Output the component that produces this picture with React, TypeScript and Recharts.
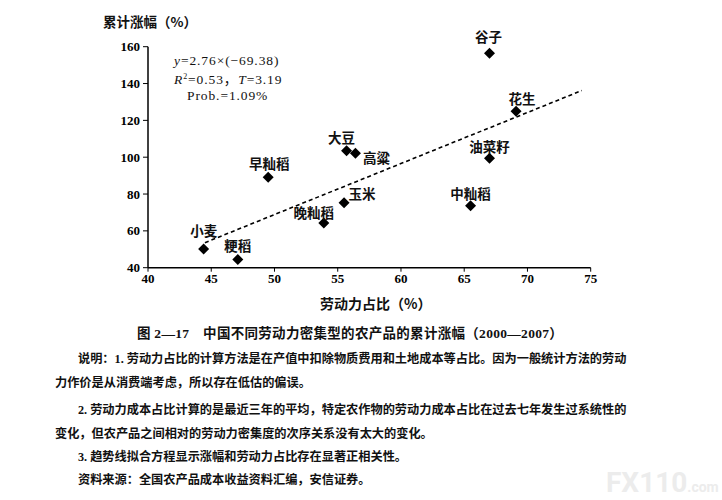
import { ReferenceLine, Scatter, ScatterChart, XAxis, YAxis } from "recharts";

// crops
const CROPS = ["谷子", "花生", "油菜籽", "中籼稻", "大豆", "高粱", "早籼稻", "玉米", "晚籼稻", "小麦", "粳稻"];
// labour share of output value (%)
const LABOUR_SHARE = [67.0, 69.1, 67.0, 65.5, 55.7, 56.4, 49.5, 55.5, 53.9, 44.4, 47.1];
// cumulative price rise 2000-2007 (%)
const CUM_RISE = [156.4, 124.9, 99.4, 73.7, 103.5, 102.1, 89.1, 75.3, 64.3, 50.2, 44.4];

const X_TICKS = [40, 45, 50, 55, 60, 65, 70, 75];
const Y_TICKS = [40, 60, 80, 100, 120, 140, 160];

// dashed trend line ends as drawn
const TREND_X = [44.5, 74.3];
const TREND_Y = [53.6, 136.2];

const NOTES = [
  "说明：1. 劳动力占比的计算方法是在产值中扣除物质费用和土地成本等占比。因为一般统计方法的劳动",
  "力作价是从消费端考虑，所以存在低估的偏误。",
  "2. 劳动力成本占比计算的是最近三年的平均，特定农作物的劳动力成本占比在过去七年发生过系统性的",
  "变化，但农产品之间相对的劳动力密集度的次序关系没有太大的变化。",
  "3. 趋势线拟合方程显示涨幅和劳动力占比存在显著正相关性。",
  "资料来源：全国农产品成本收益资料汇编，安信证券。",
];

// label placement relative to each marker (px), not data
const LABEL_OFFSET: Record<string, [number, number]> = {
  谷子: [-1, -17],
  花生: [6, -13],
  油菜籽: [0, -12],
  中籼稻: [0, -13],
  大豆: [-5, -14],
  高粱: [21, 4],
  早籼稻: [1, -14],
  玉米: [18, -10],
  晚籼稻: [-10, -11],
  小麦: [0, -19],
  粳稻: [0, -15],
};

const points = CROPS.map((name, i) => ({ name, x: LABOUR_SHARE[i], y: CUM_RISE[i] }));

const FONT = "'Liberation Serif', 'Noto Sans CJK SC', serif";
const CJK = "'Noto Sans CJK SC', sans-serif";

function Diamond(props: any) {
  const { cx, cy, payload } = props;
  const r = 5.5;
  const [dx, dy] = LABEL_OFFSET[payload.name] ?? [0, -14];
  return (
    <g>
      <path
        d={`M${cx},${cy - r}L${cx + r},${cy}L${cx},${cy + r}L${cx - r},${cy}Z`}
        fill="#000"
      />
      <text
        x={cx + dx}
        y={cy + dy}
        textAnchor="middle"
        dominantBaseline="central"
        fontFamily={CJK}
        fontSize={13.5}
        fontWeight={600}
        fill="#111"
      >
        {payload.name}
      </text>
    </g>
  );
}

const tick = { fill: "#000", fontSize: 13, fontWeight: 700, fontFamily: FONT };

export default function App() {
  return (
    <div style={{ position: "relative", width: 722, height: 500, background: "#fff", fontFamily: FONT, color: "#111" }}>
      <style>{"body{margin:0}"}</style>
      <ScatterChart
        width={722}
        height={320}
        margin={{ top: 46.7, right: 131.3, left: 108, bottom: 22.3 }}
      >
        <XAxis
          type="number"
          dataKey="x"
          domain={[40, 75]}
          ticks={X_TICKS}
          height={30}
          tick={tick}
          tickSize={4}
          tickMargin={2}
          axisLine={{ stroke: "#000", strokeWidth: 1.5 }}
          tickLine={{ stroke: "#000" }}
        />
        <YAxis
          type="number"
          dataKey="y"
          domain={[40, 160]}
          ticks={Y_TICKS}
          width={40}
          tick={tick}
          tickSize={5}
          tickMargin={3}
          axisLine={{ stroke: "#000", strokeWidth: 1.5 }}
          tickLine={{ stroke: "#000" }}
        />
        <ReferenceLine
          segment={[
            { x: TREND_X[0], y: TREND_Y[0] },
            { x: TREND_X[1], y: TREND_Y[1] },
          ]}
          stroke="#000"
          strokeWidth={1.6}
          strokeDasharray="4 3"
          ifOverflow="visible"
        />
        <Scatter data={points} shape={Diamond} isAnimationActive={false} />
      </ScatterChart>

      <div style={{ position: "absolute", left: 103, top: 11, fontFamily: CJK, fontSize: 13.5, fontWeight: 700 }}>
        累计涨幅（%）
      </div>
      <div style={{ position: "absolute", left: 320, top: 293, fontFamily: CJK, fontSize: 14, fontWeight: 600 }}>
        劳动力占比（%）
      </div>

      <div style={{ position: "absolute", left: 174, top: 53, fontSize: 13.5, lineHeight: "16px", letterSpacing: 0.9 }}>
        <div><i>y</i>=2.76×(−69.38)</div>
        <div><i>R</i><span style={{ fontSize: 8, verticalAlign: 5 }}>2</span>=0.53，<i>T</i>=3.19</div>
        <div style={{ paddingLeft: 13 }}>Prob.=1.09%</div>
      </div>

      <div style={{ position: "absolute", left: 0, width: 700, top: 322, textAlign: "center", fontSize: 13.5, fontWeight: 700, letterSpacing: 0.3 }}>
        图 2—17　中国不同劳动力密集型的农产品的累计涨幅（2000—2007）
      </div>

      {NOTES.map((line, i) => {
        const tops = [349, 373, 400, 424, 447, 470];
        const indent = i === 1 || i === 3 ? 55 : 78;
        return (
          <div
            key={i}
            style={{ position: "absolute", left: indent, top: tops[i], fontSize: 12.2, fontWeight: 600, fontFamily: FONT, whiteSpace: "nowrap" }}
          >
            {line}
          </div>
        );
      })}

      <div style={{ position: "absolute", left: 606, top: 466, color: "#ececec", fontFamily: "Roboto, sans-serif", fontWeight: 700 }}>
        <span style={{ fontSize: 28 }}>FX110</span>
        <span style={{ fontSize: 14 }}>.com</span>
      </div>
    </div>
  );
}
